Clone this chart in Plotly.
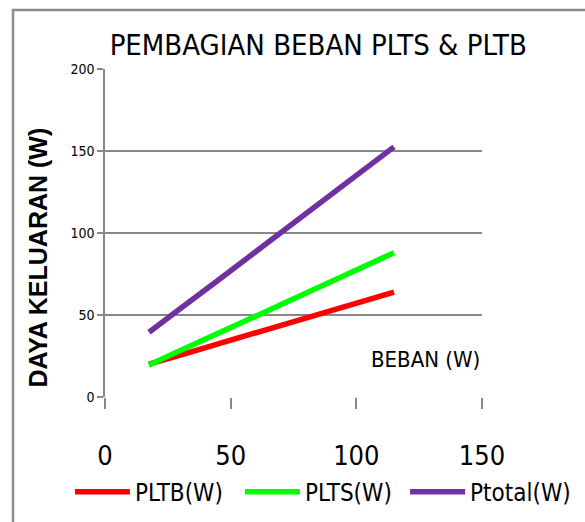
import plotly.graph_objects as go

beban = [17.5, 20, 30, 45, 60, 75, 90, 105, 115]
pltb = [20, 21, 25.6, 32.4, 39.2, 46, 52.7, 59.5, 64]
plts = [19.5, 21.4, 28.3, 38.8, 49.4, 59.9, 70.5, 81, 88]
ptotal = [39.5, 42.5, 54, 71.2, 88.6, 105.9, 123.2, 140.5, 152.5]

series_names = ["PLTB(W)", "PLTS(W)", "Ptotal(W)"]
series_vals = [pltb, plts, ptotal]
colors = ["#FF0000", "#00FF00", "#7030A0"]
legend_ids = ["legend", "legend2", "legend3"]

x_ticks = [0, 50, 100, 150]
y_ticks = [0, 50, 100, 150, 200]

NARROW = "DejaVu Sans Condensed, Liberation Sans Narrow, sans-serif"

fig = go.Figure()
for name, vals, c, lg in zip(series_names, series_vals, colors, legend_ids):
    fig.add_trace(go.Scatter(x=beban, y=vals, name=name, mode="lines",
                             line=dict(color=c, width=5.5), legend=lg))

legend_style = dict(orientation="h", xanchor="left", y=-0.29, yanchor="middle",
                    font=dict(family=NARROW, size=24, color="black"),
                    itemwidth=55, bgcolor="rgba(0,0,0,0)")

fig.update_layout(
    width=585, height=522,
    margin=dict(l=105, r=103, t=69, b=125, autoexpand=False),
    paper_bgcolor="white", plot_bgcolor="white",
    title=dict(text="PEMBAGIAN BEBAN PLTS & PLTB", x=0.544, xanchor="center",
               y=0.914, yanchor="middle",
               font=dict(family=NARROW, size=29, color="black")),
    showlegend=True,
    legend=dict(x=-0.093, **legend_style),
    legend2=dict(x=0.358, **legend_style),
    legend3=dict(x=0.796, **legend_style),
    xaxis=dict(range=[0, 150], tickvals=x_ticks, showgrid=False, zeroline=False,
               showline=False, ticks="outside", ticklen=11, tickcolor="#888888",
               tickwidth=1.5, ticklabelstandoff=24, automargin=False,
               tickfont=dict(family=NARROW, size=27, color="black")),
    yaxis=dict(range=[0, 200], tickvals=y_ticks, showgrid=True, gridcolor="#888888",
               gridwidth=1.5, zeroline=False, showline=True, linecolor="#888888",
               linewidth=1.5, ticks="outside", ticklen=6, tickcolor="#888888",
               tickwidth=1.5, automargin=False,
               tickfont=dict(family=NARROW, size=14, color="black")),
    annotations=[
        dict(text="BEBAN (W)", xref="paper", yref="paper", x=1.0, y=0.113,
             xanchor="right", yanchor="middle", showarrow=False,
             font=dict(family=NARROW, size=22, color="black")),
        dict(text="<b>DAYA KELUARAN (W)</b>", xref="paper", yref="paper",
             x=-0.178, y=0.425, xanchor="center", yanchor="middle",
             textangle=-90, showarrow=False,
             font=dict(family="Liberation Sans, Arial, sans-serif", size=25,
                       color="black")),
    ],
    shapes=[dict(type="rect", xref="paper", yref="paper",
                 x0=-0.244, x1=1.4, y0=-0.5, y1=1.18,
                 line=dict(color="#8c8c8c", width=2.5), layer="below")],
)

fig.write_html("out.html", config={"displayModeBar": False},
               post_script="document.body.style.margin='0';")
